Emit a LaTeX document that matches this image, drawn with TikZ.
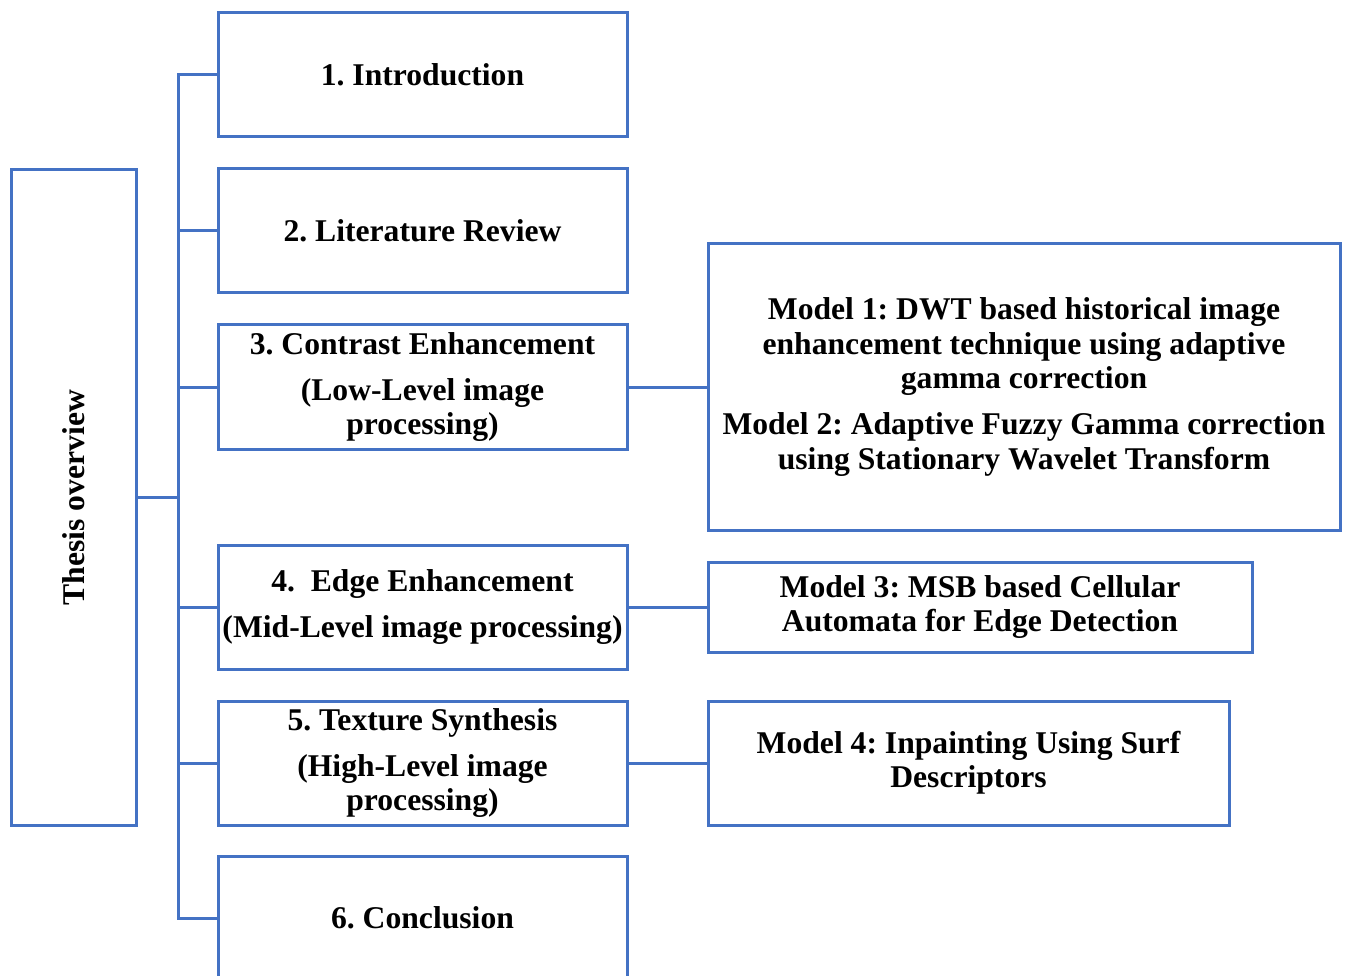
\documentclass[tikz,border=0pt]{standalone}
\usepackage{fontspec}
\setmainfont{Liberation Serif}
\usetikzlibrary{positioning}
\definecolor{edgeblue}{HTML}{4472C4}
\tikzset{box/.style={draw=edgeblue,line width=0.6mm,align=center,inner sep=1pt,font=\bfseries\fontsize{18}{19.5}\selectfont},chap/.style={box,minimum width=81.8mm,minimum height=24.8mm},link/.style={draw=edgeblue,line width=0.6mm}}
\frenchspacing
\begin{document}
\begin{tikzpicture}[x=0.2mm,y=-0.2mm]
\useasboundingbox (0,0) rectangle (1346,976);
\node[box,minimum width=131mm,minimum height=24.8mm,rotate=90] (thesis) at (74,497.5) {Thesis overview};
\node[chap] (intro) at (422.5,75) {1. Introduction};
\node[chap] (lit) at (422.5,231) {2. Literature Review};
\node[chap] (contrast) at (422.5,387) {3. Contrast Enhancement\\[7pt](Low-Level image\\processing)};
\node[chap] (edge) at (422.5,607) {4.\ \ Edge Enhancement\\[7pt](Mid-Level image processing)};
\node[chap] (texture) at (422.5,763) {5. Texture Synthesis\\[7pt](High-Level image\\processing)};
\node[chap] (concl) at (422.5,918) {6. Conclusion};
\node[box,minimum width=126.4mm,minimum height=57.2mm] (m12) at (1024,387) {Model 1: DWT based historical image\\enhancement technique using adaptive\\gamma correction\\[7pt]Model 2: Adaptive Fuzzy Gamma correction\\using Stationary Wavelet Transform};
\node[box,minimum width=108.8mm,minimum height=18mm] (m3) at (980,607) {Model 3: MSB based Cellular\\Automata for Edge Detection};
\node[box,minimum width=104.2mm,minimum height=24.8mm] (m4) at (968.5,763) {Model 4: Inpainting Using Surf\\Descriptors};
\coordinate (bus) at (178,497.5);
\draw[link] (thesis.south) -- (bus);
\foreach \b in {intro,lit,contrast,edge,texture,concl}{\draw[link] (bus) |- (\b.west);}
\foreach \a/\b in {contrast/m12,edge/m3,texture/m4}{\draw[link] (\a.east) -- (\b.west);}
\end{tikzpicture}
\end{document}
